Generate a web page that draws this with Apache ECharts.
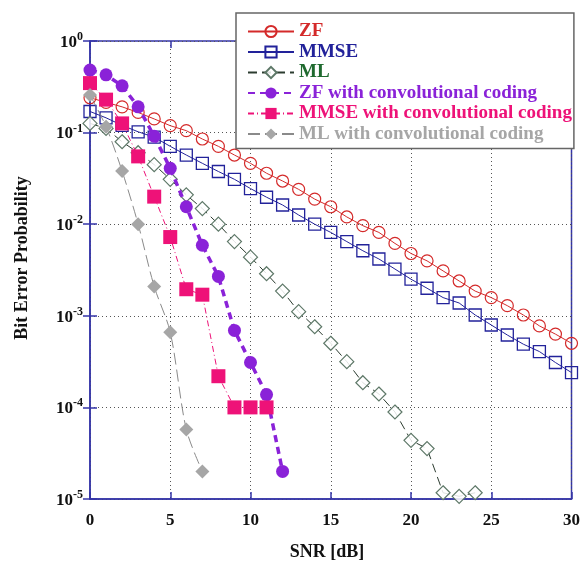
<!DOCTYPE html>
<html>
<head>
<meta charset="utf-8">
<script src="https://cdn.jsdelivr.net/npm/echarts@6/dist/echarts.min.js"></script>
<style>
html,body{margin:0;padding:0;background:#fff;}
#chart{width:583px;height:566px;}
</style>
</head>
<body>
<div id="chart"></div>
<script>
// ---- data (SNR in dB, bit error probability) ----
const snrZF   = [0,1,2,3,4,5,6,7,8,9,10,11,12,13,14,15,16,17,18,19,20,21,22,23,24,25,26,27,28,29,30];
const berZF   = [0.240,0.214,0.191,0.166,0.141,0.119,0.105,0.0851,0.0708,0.0569,0.0462,0.0360,0.0296,0.0240,0.0188,0.0155,0.0120,0.00964,0.00813,0.00617,0.00479,0.00398,0.00309,0.00240,0.00186,0.00158,0.00129,0.00102,0.000776,0.000631,0.000501];
const snrMMSE = [0,1,2,3,4,5,6,7,8,9,10,11,12,13,14,15,16,17,18,19,20,21,22,23,24,25,26,27,28,29,30];
const berMMSE = [0.170,0.145,0.120,0.102,0.0891,0.0708,0.0569,0.0462,0.0376,0.0309,0.0245,0.0197,0.0162,0.0126,0.0100,0.00813,0.00646,0.00513,0.00417,0.00324,0.00251,0.00200,0.00158,0.00138,0.00102,0.000794,0.000617,0.000490,0.000407,0.000309,0.000240];
const snrML   = [0,1,2,3,4,5,6,7,8,9,10,11,12,13,14,15,16,17,18,19,20,21,22,23,24];
const berML   = [0.126,0.111,0.0794,0.0603,0.0447,0.0309,0.0209,0.0148,0.0100,0.00646,0.00437,0.00288,0.00186,0.00111,0.000759,0.000501,0.000316,0.000186,0.000140,0.0000891,0.0000437,0.0000355,0.0000117,0.0000107,0.0000117];
const snrZFc   = [0,1,2,3,4,5,6,7,8,9,10,11,12];
const berZFc   = [0.482,0.427,0.324,0.191,0.0912,0.0407,0.0155,0.00589,0.00269,0.000692,0.000309,0.000138,0.0000200];
const snrMMSEc = [0,1,2,3,4,5,6,7,8,9,10,11];
const berMMSEc = [0.347,0.229,0.126,0.0550,0.0200,0.00724,0.00195,0.00170,0.000219,0.0001,0.0001,0.0001];
const snrMLc   = [0,1,2,3,4,5,6,7];
const berMLc   = [0.257,0.116,0.0380,0.0100,0.00209,0.000661,0.0000575,0.0000200];

const seriesNames = ['ZF','MMSE','ML','ZF with convolutional coding','MMSE with convolutional coding','ML with convolutional coding'];
const xTicks = [0,5,10,15,20,25,30];
const yTitle = 'Bit Error Probability';
const xTitle = 'SNR [dB]';

const SERIF = "'Liberation Serif','Times New Roman',serif";
const cZF='#d42a2a', cMMSE='#22229a', cML='#1f6a2f', cZFc='#8a22d8', cMMSEc='#ee1278', cMLc='#a6a6a6';

function pairs(xs, ys){ return xs.map((x,i)=>[x, ys[i]]); }

const chart = echarts.init(document.getElementById('chart'), null, {renderer:'canvas'});

const axisLineColor = '#3434a8';
const gridLine = {show:true, lineStyle:{color:'#555', type:[1,3], width:1}};

const option = {
  backgroundColor:'#fff',
  animation:false,
  grid:{left:90, right:9, top:41, bottom:67, show:true, borderColor:axisLineColor, borderWidth:1.5, backgroundColor:'transparent'},
  xAxis:[{
    type:'value', min:0, max:30, interval:5,
    axisLine:{show:true, onZero:false, lineStyle:{color:axisLineColor, width:1.5}},
    axisTick:{show:true, inside:true, length:7, lineStyle:{color:axisLineColor, width:1.5}},
    axisLabel:{margin:13, color:'#111', fontFamily:SERIF, fontWeight:'bold', fontSize:17,
      formatter:function(v){ return xTicks.indexOf(v)>=0 ? String(v) : ''; }},
    splitLine:gridLine
  },{
    type:'value', position:'top', min:0, max:30, interval:5,
    axisLine:{show:false}, axisTick:{show:true, inside:true, length:7, lineStyle:{color:axisLineColor, width:1.5}},
    axisLabel:{show:false}, splitLine:{show:false}
  }],
  yAxis:[{
    type:'log', logBase:10, min:1e-5, max:1,
    axisLine:{show:true, onZero:false, lineStyle:{color:axisLineColor, width:1.5}},
    axisTick:{show:true, inside:true, length:7, lineStyle:{color:axisLineColor, width:1.5}},
    minorTick:{show:false},
    axisLabel:{margin:7, color:'#111',
      formatter:function(v){ const e = Math.round(Math.log10(v)); return '{b|10}{s|' + e + '}'; },
      rich:{
        b:{fontFamily:SERIF, fontWeight:'bold', fontSize:17, lineHeight:20, color:'#111', verticalAlign:'bottom'},
        s:{fontFamily:SERIF, fontWeight:'bold', fontSize:12, lineHeight:11, color:'#111', verticalAlign:'top'}
      }},
    splitLine:gridLine
  },{
    type:'log', logBase:10, min:1e-5, max:1, position:'right',
    axisLine:{show:false}, axisTick:{show:true, inside:true, length:7, lineStyle:{color:axisLineColor, width:1.5}},
    axisLabel:{show:false}, splitLine:{show:false}
  }],
  legend:{
    orient:'vertical', left:236, top:13,
    padding:[9,2,5,11], itemGap:1.5, itemWidth:46, itemHeight:14,
    backgroundColor:'#fff', borderColor:'#666', borderWidth:1.5,
    textStyle:{fontFamily:SERIF, fontWeight:'bold', fontSize:19},
    data:[
      {name:seriesNames[0], textStyle:{color:cZF}},
      {name:seriesNames[1], textStyle:{color:cMMSE}},
      {name:seriesNames[2], textStyle:{color:cML}},
      {name:seriesNames[3], textStyle:{color:cZFc}},
      {name:seriesNames[4], textStyle:{color:cMMSEc}},
      {name:seriesNames[5], textStyle:{color:cMLc}}
    ]
  },
  graphic:[
    {type:'text', x:22, y:258, rotation:Math.PI/2,
     style:{text:yTitle, fill:'#111', font:"bold 18px "+SERIF, textAlign:'center', textVerticalAlign:'middle'}},
    {type:'text', x:327, y:552,
     style:{text:xTitle, fill:'#111', font:"bold 18px "+SERIF, textAlign:'center', textVerticalAlign:'middle'}}
  ],
  series:[
    {name:seriesNames[0], type:'line', data:pairs(snrZF,berZF), symbol:'circle', symbolSize:12,
     itemStyle:{color:'rgba(255,255,255,0)', borderColor:cZF, borderWidth:1.2},
     lineStyle:{color:cZF, width:1}, z:3},
    {name:seriesNames[1], type:'line', data:pairs(snrMMSE,berMMSE), symbol:'rect', symbolSize:12,
     itemStyle:{color:'rgba(255,255,255,0)', borderColor:cMMSE, borderWidth:1.3},
     lineStyle:{color:cMMSE, width:1}, z:3},
    {name:seriesNames[2], type:'line', data:pairs(snrML,berML), symbol:'diamond', symbolSize:14,
     itemStyle:{color:'rgba(255,255,255,0.85)', borderColor:'#5e7868', borderWidth:1.2},
     lineStyle:{color:'#2c3c30', width:1, type:[9,5]}, z:3},
    {name:seriesNames[3], type:'line', data:pairs(snrZFc,berZFc), symbol:'circle', symbolSize:13,
     itemStyle:{color:cZFc}, lineStyle:{color:cZFc, width:3.5, type:[7,5]}, z:4},
    {name:seriesNames[4], type:'line', data:pairs(snrMMSEc,berMMSEc), symbol:'rect', symbolSize:14,
     itemStyle:{color:cMMSEc}, lineStyle:{color:cMMSEc, width:1, type:[6,3,1,3]}, z:4},
    {name:seriesNames[5], type:'line', data:pairs(snrMLc,berMLc), symbol:'diamond', symbolSize:14,
     itemStyle:{color:cMLc}, lineStyle:{color:'#8a8a8a', width:1, type:[12,5]}, smooth:0.3, z:4}
  ]
};
chart.setOption(option);
</script>
</body>
</html>
